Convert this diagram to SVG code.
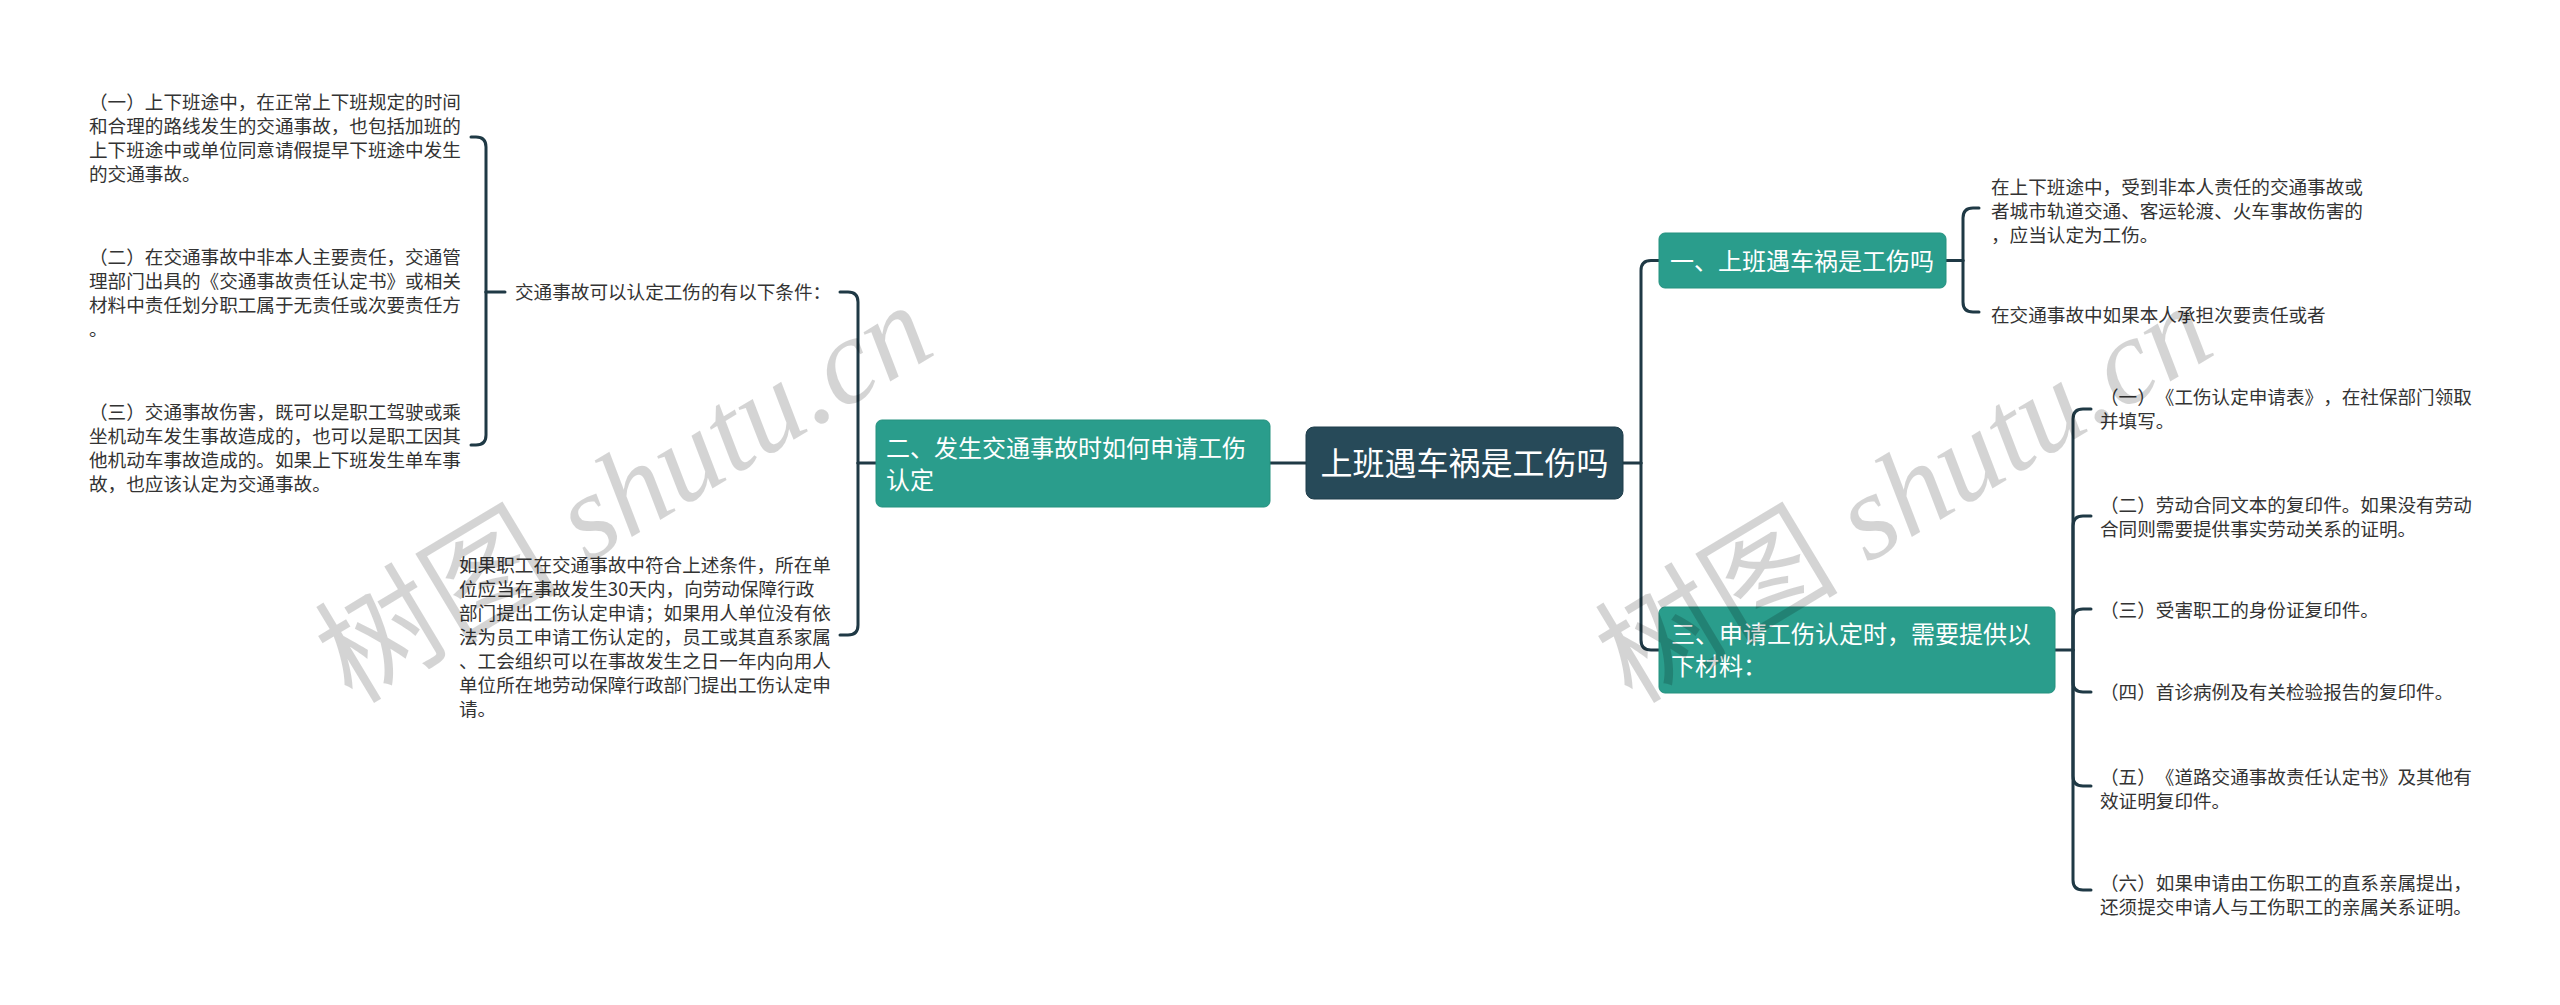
<svg xmlns="http://www.w3.org/2000/svg" width="2560" height="1005" viewBox="0 0 2560 1005">
<style>
.bg{fill:#ffffff}
.link{fill:none;stroke:#1f3945;stroke-width:3;stroke-linecap:round}
.root rect{fill:#274a59;stroke:#1f3d4a;stroke-width:1}
.main rect{fill:#2a9d8c;stroke:#24917f;stroke-width:1}
text{text-spacing-trim:space-all}
.rt{font-family:"Noto Sans CJK SC","Noto Sans",sans-serif;font-size:32px;fill:#ffffff}
.mt{font-family:"Noto Sans CJK SC","Noto Sans",sans-serif;font-size:24px;fill:#ffffff}
.t{font-family:"Noto Sans CJK SC","Noto Sans",sans-serif;font-size:18.6px;fill:#333333}
.wm{font-size:122px;fill:#000000;fill-opacity:0.17}
.wmc{font-family:"Noto Sans CJK SC",sans-serif}
.wml{font-family:"Liberation Serif",serif;font-style:italic}
</style>
<rect class="bg" x="0" y="0" width="2560" height="1005"/>
<g id="connectors">
  <path class="link" d="M1306,463 H1270"/>
  <path class="link" d="M1623,463 H1641"/>
  <path class="link" d="M1641,463 V270.5 Q1641,260.5 1651,260.5 H1659"/>
  <path class="link" d="M1641,463 V640 Q1641,650 1651,650 H1659"/>
  <path class="link" d="M1946,260.5 H1963"/>
  <path class="link" d="M1963,260.5 V218 Q1963,208 1973,208 H1979"/>
  <path class="link" d="M1963,260.5 V302 Q1963,312 1973,312 H1979"/>
  <path class="link" d="M2055,650 H2073"/>
  <path class="link" d="M2073,650 V419 Q2073,409 2083,409 H2091"/>
  <path class="link" d="M2073,650 V526 Q2073,516 2083,516 H2091"/>
  <path class="link" d="M2073,650 V619 Q2073,609 2083,609 H2091"/>
  <path class="link" d="M2073,650 V682 Q2073,692 2083,692 H2091"/>
  <path class="link" d="M2073,650 V776 Q2073,786 2083,786 H2091"/>
  <path class="link" d="M2073,650 V880 Q2073,890 2083,890 H2091"/>
  <path class="link" d="M876,463 H858"/>
  <path class="link" d="M858,463 V302 Q858,292 848,292 H840"/>
  <path class="link" d="M858,463 V625 Q858,635 848,635 H840"/>
  <path class="link" d="M505,292 H486"/>
  <path class="link" d="M486,292 V147 Q486,137 476,137 H471"/>
  <path class="link" d="M486,292 V435 Q486,445 476,445 H471"/>
</g>
<g id="root" class="root">
  <rect x="1306" y="427" width="317" height="72" rx="8"/>
  <text class="rt" x="1464.5" y="475" text-anchor="middle">上班遇车祸是工伤吗</text>
</g>
<g id="n1" class="main">
  <rect x="1659" y="233" width="287" height="55" rx="6"/>
  <text class="mt" x="1670" y="269.5">一、上班遇车祸是工伤吗</text>
</g>
<g id="n2" class="main">
  <rect x="876" y="420" width="394" height="87" rx="6"/>
  <text class="mt" x="886" y="456.5">二、发生交通事故时如何申请工伤</text>
  <text class="mt" x="886" y="489">认定</text>
</g>
<g id="n3" class="main">
  <rect x="1659" y="607" width="396" height="86" rx="6"/>
  <text class="mt" x="1671" y="643">三、申请工伤认定时，需要提供以</text>
  <text class="mt" x="1671" y="675">下材料：</text>
</g>
<g id="n2-label">
  <text class="t" x="515" y="299">交通事故可以认定工伤的有以下条件：</text>
</g>
<g id="n2-a1">
  <text class="t" x="89" y="109">（一）上下班途中，在正常上下班规定的时间</text>
  <text class="t" x="89" y="133">和合理的路线发生的交通事故，也包括加班的</text>
  <text class="t" x="89" y="157">上下班途中或单位同意请假提早下班途中发生</text>
  <text class="t" x="89" y="181">的交通事故。</text>
</g>
<g id="n2-a2">
  <text class="t" x="89" y="264">（二）在交通事故中非本人主要责任，交通管</text>
  <text class="t" x="89" y="288">理部门出具的《交通事故责任认定书》或相关</text>
  <text class="t" x="89" y="312">材料中责任划分职工属于无责任或次要责任方</text>
  <text class="t" x="89" y="336">。</text>
</g>
<g id="n2-a3">
  <text class="t" x="89" y="419">（三）交通事故伤害，既可以是职工驾驶或乘</text>
  <text class="t" x="89" y="443">坐机动车发生事故造成的，也可以是职工因其</text>
  <text class="t" x="89" y="467">他机动车事故造成的。如果上下班发生单车事</text>
  <text class="t" x="89" y="491">故，也应该认定为交通事故。</text>
</g>
<g id="n2-b">
  <text class="t" x="459" y="572">如果职工在交通事故中符合上述条件，所在单</text>
  <text class="t" x="459" y="596">位应当在事故发生30天内，向劳动保障行政</text>
  <text class="t" x="459" y="620">部门提出工伤认定申请；如果用人单位没有依</text>
  <text class="t" x="459" y="644">法为员工申请工伤认定的，员工或其直系家属</text>
  <text class="t" x="459" y="668">、工会组织可以在事故发生之日一年内向用人</text>
  <text class="t" x="459" y="692">单位所在地劳动保障行政部门提出工伤认定申</text>
  <text class="t" x="459" y="716">请。</text>
</g>
<g id="n1-a">
  <text class="t" x="1991" y="194">在上下班途中，受到非本人责任的交通事故或</text>
  <text class="t" x="1991" y="218">者城市轨道交通、客运轮渡、火车事故伤害的</text>
  <text class="t" x="1991" y="242">，应当认定为工伤。</text>
</g>
<g id="n1-b">
  <text class="t" x="1991" y="322">在交通事故中如果本人承担次要责任或者</text>
</g>
<g id="n3-a1">
  <text class="t" x="2100" y="404">（一）《工伤认定申请表》，在社保部门领取</text>
  <text class="t" x="2100" y="428">并填写。</text>
</g>
<g id="n3-a2">
  <text class="t" x="2100" y="512">（二）劳动合同文本的复印件。如果没有劳动</text>
  <text class="t" x="2100" y="536">合同则需要提供事实劳动关系的证明。</text>
</g>
<g id="n3-a3">
  <text class="t" x="2100" y="617">（三）受害职工的身份证复印件。</text>
</g>
<g id="n3-a4">
  <text class="t" x="2100" y="699">（四）首诊病例及有关检验报告的复印件。</text>
</g>
<g id="n3-a5">
  <text class="t" x="2100" y="784">（五）《道路交通事故责任认定书》及其他有</text>
  <text class="t" x="2100" y="808">效证明复印件。</text>
</g>
<g id="n3-a6">
  <text class="t" x="2100" y="890">（六）如果申请由工伤职工的直系亲属提出，</text>
  <text class="t" x="2100" y="914">还须提交申请人与工伤职工的亲属关系证明。</text>
</g>
<g id="watermarks">
  <text class="wm" x="352" y="705" transform="rotate(-31 352 705)"><tspan class="wmc">树图</tspan><tspan class="wml"> shutu.cn</tspan></text>
  <text class="wm" x="1632" y="705" transform="rotate(-31 1632 705)"><tspan class="wmc">树图</tspan><tspan class="wml"> shutu.cn</tspan></text>
</g>
</svg>
